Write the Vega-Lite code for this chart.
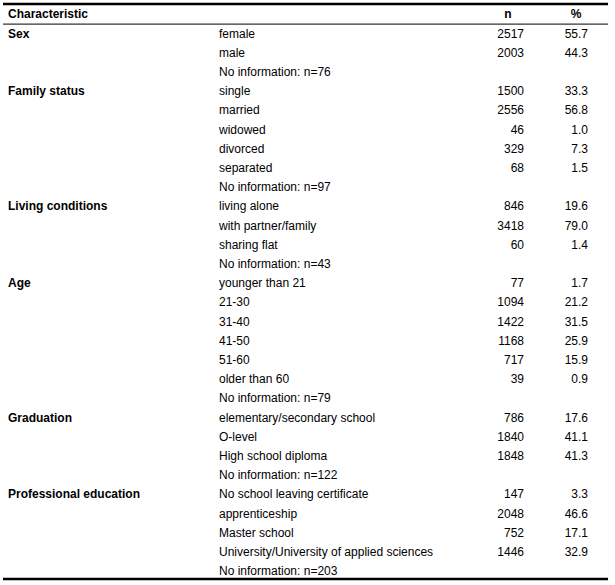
{
  "$schema": "https://vega.github.io/schema/vega-lite/v6.json",
  "autosize": {"type": "fit", "contains": "padding"},
  "width": 615,
  "height": 585,
  "padding": 0,
  "background": "white",
  "config": {"view": {"stroke": null}, "text": {"font": "Liberation Sans", "fontSize": 12, "color": "#000", "baseline": "middle"}},
  "datasets": {
    "rows": [
      {"r": 0, "cat": "Sex", "sub": "female", "n": 2517, "pct": 55.7},
      {"r": 1, "sub": "male", "n": 2003, "pct": 44.3},
      {"r": 2, "sub": "No information: n=76"},
      {"r": 3, "cat": "Family status", "sub": "single", "n": 1500, "pct": 33.3},
      {"r": 4, "sub": "married", "n": 2556, "pct": 56.8},
      {"r": 5, "sub": "widowed", "n": 46, "pct": 1.0},
      {"r": 6, "sub": "divorced", "n": 329, "pct": 7.3},
      {"r": 7, "sub": "separated", "n": 68, "pct": 1.5},
      {"r": 8, "sub": "No information: n=97"},
      {"r": 9, "cat": "Living conditions", "sub": "living alone", "n": 846, "pct": 19.6},
      {"r": 10, "sub": "with partner/family", "n": 3418, "pct": 79.0},
      {"r": 11, "sub": "sharing flat", "n": 60, "pct": 1.4},
      {"r": 12, "sub": "No information: n=43"},
      {"r": 13, "cat": "Age", "sub": "younger than 21", "n": 77, "pct": 1.7},
      {"r": 14, "sub": "21-30", "n": 1094, "pct": 21.2},
      {"r": 15, "sub": "31-40", "n": 1422, "pct": 31.5},
      {"r": 16, "sub": "41-50", "n": 1168, "pct": 25.9},
      {"r": 17, "sub": "51-60", "n": 717, "pct": 15.9},
      {"r": 18, "sub": "older than 60", "n": 39, "pct": 0.9},
      {"r": 19, "sub": "No information: n=79"},
      {"r": 20, "cat": "Graduation", "sub": "elementary/secondary school", "n": 786, "pct": 17.6},
      {"r": 21, "sub": "O-level", "n": 1840, "pct": 41.1},
      {"r": 22, "sub": "High school diploma", "n": 1848, "pct": 41.3},
      {"r": 23, "sub": "No information: n=122"},
      {"r": 24, "cat": "Professional education", "sub": "No school leaving certificate", "n": 147, "pct": 3.3},
      {"r": 25, "sub": "apprenticeship", "n": 2048, "pct": 46.6},
      {"r": 26, "sub": "Master school", "n": 752, "pct": 17.1},
      {"r": 27, "sub": "University/University of applied sciences", "n": 1446, "pct": 32.9},
      {"r": 28, "sub": "No information: n=203"}
    ],
    "header": [{"r": -1, "c1": "Characteristic", "c2": "n", "c3": "%"}],
    "lines": [{"r": -1.537, "w": "thick"}, {"r": -0.49, "w": "thin"}, {"r": 28.41, "w": "thick"}]
  },
  "encoding": {
    "y": {"field": "r", "type": "quantitative", "scale": {"domain": [-1.745, 28.72], "reverse": true, "zero": false, "nice": false}, "axis": null}
  },
  "layer": [
    {
      "data": {"name": "header"},
      "mark": {"type": "text", "align": "left", "fontWeight": "bold"},
      "encoding": {"x": {"datum": 8, "type": "quantitative", "scale": {"domain": [0, 615], "nice": false, "zero": false}, "axis": null}, "text": {"field": "c1"}}
    },
    {
      "data": {"name": "header"},
      "mark": {"type": "text", "align": "center", "fontWeight": "bold"},
      "encoding": {"x": {"datum": 508, "type": "quantitative"}, "text": {"field": "c2"}}
    },
    {
      "data": {"name": "header"},
      "mark": {"type": "text", "align": "center", "fontWeight": "bold"},
      "encoding": {"x": {"datum": 576, "type": "quantitative"}, "text": {"field": "c3"}}
    },
    {
      "data": {"name": "rows"},
      "transform": [{"filter": "isValid(datum.cat)"}],
      "mark": {"type": "text", "align": "left", "fontWeight": "bold"},
      "encoding": {"x": {"datum": 8, "type": "quantitative"}, "text": {"field": "cat"}}
    },
    {
      "data": {"name": "rows"},
      "mark": {"type": "text", "align": "left"},
      "encoding": {"x": {"datum": 219, "type": "quantitative"}, "text": {"field": "sub"}}
    },
    {
      "data": {"name": "rows"},
      "transform": [{"filter": "isValid(datum.n)"}],
      "mark": {"type": "text", "align": "right"},
      "encoding": {"x": {"datum": 524, "type": "quantitative"}, "text": {"field": "n", "type": "quantitative", "format": "d"}}
    },
    {
      "data": {"name": "rows"},
      "transform": [{"filter": "isValid(datum.pct)"}],
      "mark": {"type": "text", "align": "right"},
      "encoding": {"x": {"datum": 588, "type": "quantitative"}, "text": {"field": "pct", "type": "quantitative", "format": ".1f"}}
    },
    {
      "data": {"name": "lines"},
      "transform": [{"filter": "datum.w === 'thick'"}],
      "mark": {"type": "rule", "strokeWidth": 2.5, "color": "#000"},
      "encoding": {"x": {"datum": 3, "type": "quantitative"}, "x2": {"datum": 608}}
    },
    {
      "data": {"name": "lines"},
      "transform": [{"filter": "datum.w === 'thin'"}],
      "mark": {"type": "rule", "strokeWidth": 1, "color": "#000"},
      "encoding": {"x": {"datum": 3, "type": "quantitative"}, "x2": {"datum": 608}}
    }
  ]
}
